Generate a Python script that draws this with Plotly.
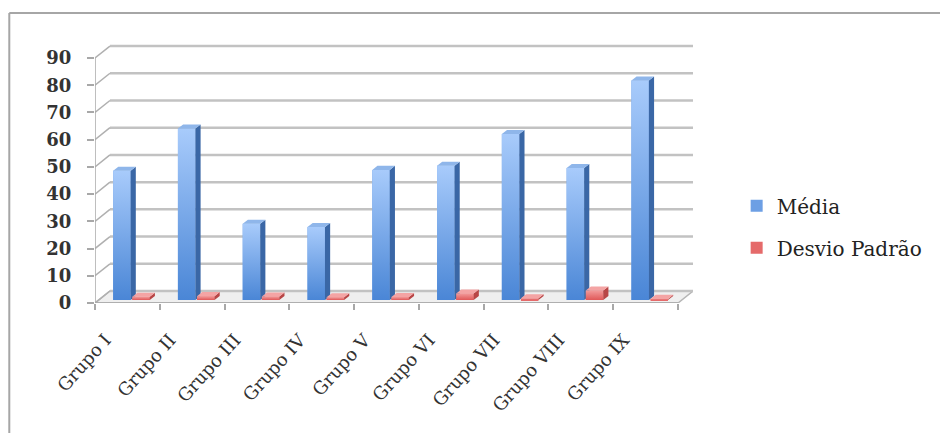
import plotly.graph_objects as go

categories = ["Grupo I", "Grupo II", "Grupo III", "Grupo IV", "Grupo V",
              "Grupo VI", "Grupo VII", "Grupo VIII", "Grupo IX"]
media = [47.5, 63, 28, 26.8, 47.8, 49.3, 61, 48.5, 80.6]
desvio = [1.2, 1.4, 1.3, 1.0, 1.1, 2.4, 0.6, 3.5, 0.4]
yticks = [0, 10, 20, 30, 40, 50, 60, 70, 80, 90]

# geometry (in axis units)
N = len(categories)
DX = 0.2308          # depth offset of back wall (x units)
DY = 4.4             # depth offset of back wall (y units)
BASE = 1.1           # bars sit mid-depth
BW = 0.27            # bar width
B_OFF = 0.415        # blue bar centre within slot
R_OFF = 0.71         # red bar centre within slot
ddx, ddy = 0.08, 1.5 # bar's own depth

FONT = "DejaVu Serif"
fig = go.Figure()

# legend / data bars
fig.add_trace(go.Bar(x=[i + B_OFF for i in range(N)], y=media, base=BASE, width=BW,
                     name="Média", marker=dict(color="#6d9fe4", line_width=0),
                     legendgroup="m", hovertext=categories))
fig.add_trace(go.Bar(x=[i + R_OFF for i in range(N)], y=desvio, base=BASE, width=BW,
                     name="Desvio Padrão", marker=dict(color="#e56a6a", line_width=0),
                     legendgroup="d", hovertext=categories))


def faces(vals, off):
    fronts, sx, sy, tx, ty = [], [], [], [], []
    for i, v in enumerate(vals):
        xl = i + off - BW / 2
        xr = i + off + BW / 2
        top = BASE + v
        fronts.append(([xl, xr, xr, xl, xl], [BASE, BASE, top, top, BASE]))
        sx += [xr, xr + ddx, xr + ddx, xr, xr, None]
        sy += [BASE, BASE + ddy, top + ddy, top, BASE, None]
        tx += [xl, xr, xr + ddx, xl + ddx, xl, None]
        ty += [top, top, top + ddy, top + ddy, top, None]
    return fronts, sx, sy, tx, ty


def add_bar3d(vals, off, cs, side, topc):
    fronts, sx, sy, tx, ty = faces(vals, off)
    for fx, fy in fronts:
        fig.add_trace(go.Scatter(x=fx, y=fy, mode="lines", fill="toself",
                                 line=dict(width=0), fillgradient=dict(type="vertical", colorscale=cs),
                                 showlegend=False, hoverinfo="skip"))
    fig.add_trace(go.Scatter(x=sx, y=sy, mode="lines", fill="toself", fillcolor=side,
                             line=dict(width=0), showlegend=False, hoverinfo="skip"))
    fig.add_trace(go.Scatter(x=tx, y=ty, mode="lines", fill="toself", fillcolor=topc,
                             line=dict(width=0), showlegend=False, hoverinfo="skip"))


add_bar3d(media, B_OFF, [[0, "#4a86d6"], [1, "#a8cbfb"]], "#3a67a6", "#8fb6ea")
add_bar3d(desvio, R_OFF, [[0, "#e05858"], [1, "#f29a9a"]], "#b84646", "#f4a4a4")

# walls, floor, gridlines (background)
shapes = []
shapes.append(dict(type="path", layer="below", xref="x", yref="y",
                   path=f"M 0 0 L {N} 0 L {N + DX} {DY} L {DX} {DY} Z",
                   fillcolor="#efefef", line=dict(color="#b5b5b5", width=1.5)))
for v in yticks:
    shapes.append(dict(type="line", layer="below", xref="x", yref="y",
                       x0=DX, x1=N + DX, y0=v + DY, y1=v + DY,
                       line=dict(color="#c2c2c2", width=2.5)))
    shapes.append(dict(type="line", layer="below", xref="x", yref="y",
                       x0=0, x1=DX, y0=v, y1=v + DY,
                       line=dict(color="#b0b0b0", width=1.5)))
shapes.append(dict(type="line", layer="below", xref="x", yref="y",
                   x0=0, x1=0, y0=0, y1=yticks[-1], line=dict(color="#a8a8a8", width=1.5)))
shapes.append(dict(type="line", layer="below", xref="x", yref="y",
                   x0=0, x1=N, y0=0, y1=0, line=dict(color="#a8a8a8", width=1.5)))
# chart border (left & top)
shapes.append(dict(type="line", xref="paper", yref="paper",
                   x0=(9 - 95) / 600, x1=(9 - 95) / 600, y0=(303 - 440) / 263, y1=(303 - 13) / 263,
                   line=dict(color="#a6a6a6", width=2)))
shapes.append(dict(type="line", xref="paper", yref="paper",
                   x0=(9 - 95) / 600, x1=(950 - 95) / 600, y0=(303 - 13) / 263, y1=(303 - 13) / 263,
                   line=dict(color="#a6a6a6", width=2)))

fig.update_layout(
    width=940, height=433,
    margin=dict(l=95, r=245, t=40, b=130),
    paper_bgcolor="white", plot_bgcolor="rgba(0,0,0,0)",
    barmode="overlay",
    showlegend=True,
    shapes=shapes,
    legend=dict(x=1.073, xanchor="left", y=0.29, yanchor="middle",
                font=dict(family=FONT, size=20, color="#222"),
                tracegroupgap=13, itemwidth=30),
    xaxis=dict(range=[0, 600 / 65], showgrid=False, zeroline=False, showline=False,
               tickmode="array", tickvals=[i + 0.5 for i in range(N)], ticktext=categories,
               ticks="", tickangle=-48, ticklabelshift=-22, ticklabelstandoff=22,
               tickfont=dict(family=FONT, size=18, color="#333"),
               minor=dict(tickmode="array", tickvals=list(range(N + 1)), ticks="outside",
                          ticklen=6, tickcolor="#a8a8a8", tickwidth=1.5, showgrid=False)),
    yaxis=dict(range=[0, 263 / 2.722], showgrid=False, zeroline=False, showline=False,
               tickmode="array", tickvals=yticks, ticks="outside", ticklen=7,
               tickcolor="#a8a8a8", tickwidth=1.5, ticklabelstandoff=12,
               tickfont=dict(family=FONT, size=18, color="#333", weight="bold")),
)

fig.write_html("out.html")
